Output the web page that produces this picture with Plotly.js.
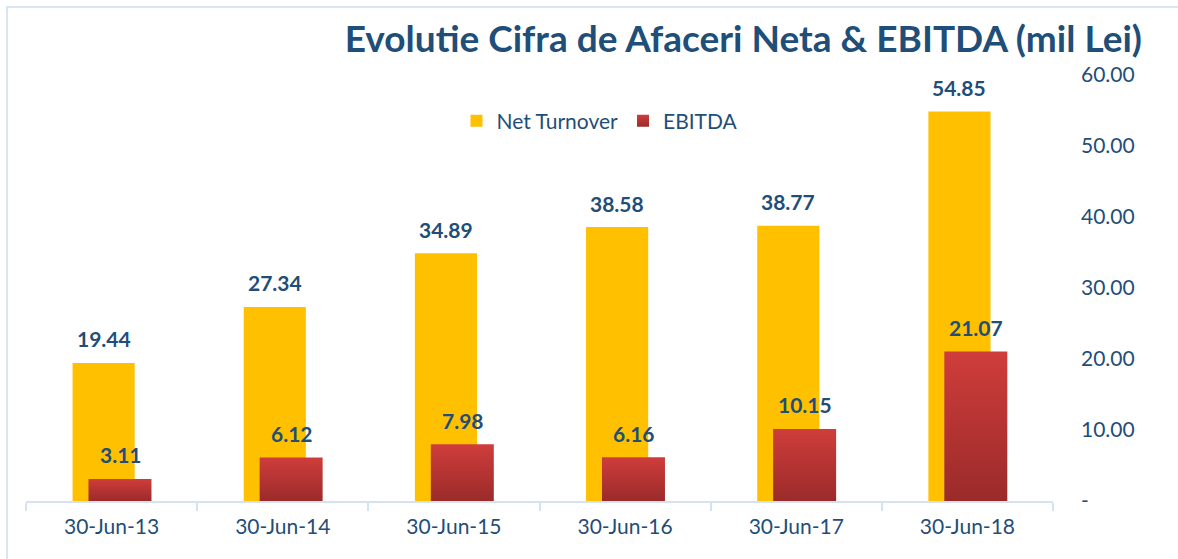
<!DOCTYPE html>
<html>
<head>
<meta charset="utf-8">
<script src="https://cdn.plot.ly/plotly-3.0.1.min.js"></script>
<style>
  html, body { margin: 0; padding: 0; background: #fff; }
  #wrap { position: relative; width: 1178px; height: 559px; overflow: hidden; }
  #frame { position: absolute; left: 6px; top: 6px; width: 1200px; height: 600px; border-left: 2px solid #D8E5F3; border-top: 2px solid #D8E5F3; box-sizing: border-box; pointer-events: none; }
  #chart { position: absolute; left: 0; top: 0; width: 1178px; height: 559px; }
</style>
</head>
<body>
<div id="wrap">
  <div id="chart"></div>
  <div id="frame"></div>
</div>
<script>
const categories = ["30-Jun-13", "30-Jun-14", "30-Jun-15", "30-Jun-16", "30-Jun-17", "30-Jun-18"];
const netTurnover = [19.44, 27.34, 34.89, 38.58, 38.77, 54.85];
const ebitda = [3.11, 6.12, 7.98, 6.16, 10.15, 21.07];
const yTickVals = [0, 10, 20, 30, 40, 50, 60];
const yTickText = ["-", "10.00", "20.00", "30.00", "40.00", "50.00", "60.00"];

const blue = "#1F4E79";
const font = "Lato, 'Open Sans', sans-serif";

const traces = [
  {
    type: "bar", name: "Net Turnover", x: categories, y: netTurnover,
    width: 0.363, offset: -0.228,
    marker: { color: "#FFC000" },
    hoverinfo: "y"
  },
  {
    type: "bar", name: "EBITDA", x: categories, y: ebitda,
    width: 0.368, offset: -0.135,
    marker: { color: "#B93634" },
    hoverinfo: "y"
  }
];

const annotations = [];
categories.forEach((c, i) => {
  annotations.push({ x: c, y: netTurnover[i], xref: "x", yref: "y", text: netTurnover[i].toFixed(2),
    showarrow: false, xshift: -8, yshift: 24, yanchor: "middle",
    font: { family: font, size: 21, color: blue, weight: "bold" } });
  annotations.push({ x: c, y: ebitda[i], xref: "x", yref: "y", text: ebitda[i].toFixed(2),
    showarrow: false, xshift: 9, yshift: 24, yanchor: "middle",
    font: { family: font, size: 21, color: blue, weight: "bold" } });
});

const layout = {
  width: 1178, height: 559,
  margin: { l: 26, r: 125, t: 75, b: 58, autoexpand: false },
  paper_bgcolor: "rgba(0,0,0,0)", plot_bgcolor: "rgba(0,0,0,0)",
  barmode: "overlay",
  title: {
    text: "<b>Evolutie Cifra de Afaceri Neta & EBITDA (mil Lei)</b>",
    xref: "container", yref: "container",
    x: 1142 / 1178, xanchor: "right",
    y: 1 - 39 / 559, yanchor: "middle",
    font: { family: font, size: 37, color: blue }
  },
  showlegend: true,
  legend: {
    orientation: "h", xref: "paper", yref: "paper",
    x: (600 - 26) / 1027, xanchor: "center", y: (501 - 121) / 426, yanchor: "middle",
    font: { family: font, size: 21, color: blue },
    traceorder: "normal", itemwidth: 30, bgcolor: "rgba(0,0,0,0)"
  },
  xaxis: {
    type: "category", range: [-0.5, 5.5],
    showline: true, linecolor: "#D5E2F1", linewidth: 2,
    ticks: "outside", tickson: "boundaries", ticklen: 8, tickwidth: 2, tickcolor: "#D5E2F1",
    ticklabelstandoff: 6,
    showgrid: false, zeroline: false,
    tickfont: { family: font, size: 21, color: blue }
  },
  yaxis: {
    side: "right", range: [0, 60],
    tickvals: yTickVals, ticktext: yTickText,
    showgrid: false, zeroline: false, showline: false, ticks: "",
    ticklabelstandoff: 27,
    tickfont: { family: font, size: 21, color: blue }
  },
  annotations: annotations
};

Plotly.newPlot("chart", traces, layout, { displayModeBar: false, staticPlot: true }).then(gd => {
  const svg = gd.querySelector("svg.main-svg");
  const ns = "http://www.w3.org/2000/svg";
  let defs = svg.querySelector("defs");
  if (!defs) { defs = document.createElementNS(ns, "defs"); svg.insertBefore(defs, svg.firstChild); }
  const g = document.createElementNS(ns, "linearGradient");
  g.setAttribute("id", "ebitdaGrad");
  g.setAttribute("x1", "0"); g.setAttribute("y1", "0"); g.setAttribute("x2", "0"); g.setAttribute("y2", "1");
  [["0", "#CF3D3B"], ["1", "#9A2B2A"]].forEach(([o, c]) => {
    const s = document.createElementNS(ns, "stop");
    s.setAttribute("offset", o); s.setAttribute("stop-color", c);
    g.appendChild(s);
  });
  defs.appendChild(g);
  const barTraces = gd.querySelectorAll(".barlayer .trace");
  if (barTraces[1]) barTraces[1].querySelectorAll("path").forEach(p => { p.style.fill = "url(#ebitdaGrad)"; });
  const legTraces = gd.querySelectorAll(".legend .traces");
  if (legTraces[1]) legTraces[1].querySelectorAll(".legendpoints path").forEach(p => { p.style.fill = "url(#ebitdaGrad)"; });
});
</script>
</body>
</html>
